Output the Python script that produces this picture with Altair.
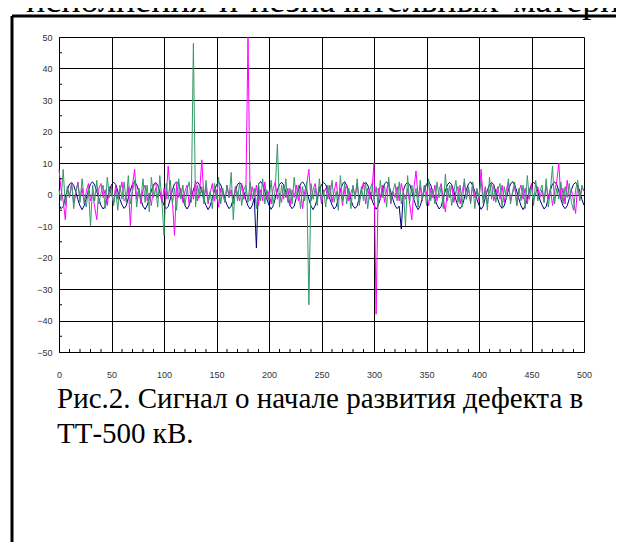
import altair as alt
import pandas as pd

# ---- data (step of 2 along x) ----
x_vals = list(range(0, 501, 2))

navy = [
    -3.2, -4.5, -3.8, -1.0, 1.5, 3.3, 3.8, 2.9, 0.8, -1.6,
    -3.6, -4.8, -3.5, -1.2, 1.3, 3.4, 4.0, 3.0, 0.9, -1.4,
    -3.5, -4.6, -3.7, -1.3, 1.2, 3.1, 3.9, 3.2, 1.1, -1.5,
    -3.3, -4.4, -3.6, -1.1, 1.4, 3.3, 4.1, 3.1, 1.0, -1.7,
    -3.7, -4.7, -3.4, -1.2, 1.2, 3.2, 3.8, 3.0, 0.8, -1.6,
    -3.4, -4.5, -3.8, -1.4, 1.3, 3.4, 4.0, 3.2, 1.0, -1.5,
    -3.6, -4.6, -3.5, -1.0, 1.5, 3.3, 3.9, 2.9, 0.9, -1.6,
    -3.5, -4.8, -3.6, -1.2, 1.1, 3.1, 4.0, 3.1, 1.1, -1.4,
    -3.3, -4.5, -3.7, -1.3, 1.4, 3.2, 3.8, 3.0, 0.9, -1.7,
    -3.6, -4.6, -3.5, -1.1, -17.0, 3.3, 4.1, 3.2, 1.0, -1.5,
    -3.4, -4.7, -3.6, -1.2, 1.3, 3.2, 3.9, 3.0, 0.8, -1.6,
    -3.5, -4.5, -3.7, -1.0, 1.2, 3.4, 4.0, 3.1, 1.0, -1.5,
    -3.7, -4.8, -3.5, -1.3, 1.4, 3.1, 3.8, 3.2, 0.9, -1.4,
    -3.3, -4.6, -3.8, -1.2, 1.3, 3.3, 4.1, 2.9, 1.1, -1.6,
    -3.6, -4.4, -3.6, -1.1, 1.5, 3.2, 3.9, 3.0, 1.0, -1.7,
    -3.4, -4.7, -3.5, -1.4, 1.2, 3.4, 4.0, 3.1, 0.8, -1.5,
    -3.5, -4.5, -3.7, -11.0, 1.3, 3.2, 3.8, 3.2, 1.0, -1.6,
    -3.6, -4.8, -3.6, -1.2, 1.4, 3.3, 4.1, 3.0, 0.9, -1.4,
    -3.3, -4.6, -3.8, -1.1, 1.2, 3.1, 3.9, 3.1, 1.1, -1.7,
    -3.7, -4.5, -3.5, -1.3, 1.5, 3.4, 4.0, 2.9, 1.0, -1.5,
    -3.4, -4.7, -3.7, -1.0, 1.3, 3.2, 3.8, 3.2, 0.8, -1.6,
    -3.5, -4.4, -3.6, -1.2, 1.4, 3.3, 4.1, 3.0, 1.0, -1.4,
    -3.6, -4.8, -3.5, -1.4, 1.2, 3.1, 3.9, 3.1, 0.9, -1.7,
    -3.3, -4.6, -3.8, -1.1, 1.3, 3.4, 4.0, 3.2, 1.1, -1.5,
    -3.6, -4.5, -3.6, -1.3, 1.5, 3.2, 3.8, 2.9, 1.0, -1.6,
    -3.4,
]

green = [
    1.5, -2.0, 8.0, -3.5, 2.5, -1.0, 4.0, -4.5, 1.0, 3.5,
    -2.5, 5.0, -1.5, -4.0, 2.0, -10.0, 3.0, -2.0, 4.5, -3.0,
    0.5, 3.0, -4.5, 5.5, -1.0, 2.5, -3.5, 1.5, -5.0, 3.0,
    -1.5, 4.0, -2.5, 6.0, -3.0, 1.0, 4.5, -4.0, 2.0, -1.5,
    5.0, -2.5, 3.0, -5.5, 5.5, -1.0, 2.0, -4.0, 6.0, -2.0,
    -13.0, 3.5, -1.5, 4.5, -3.0, 2.0, -5.0, 5.0, -1.5, 3.0,
    -3.5, 1.5, 4.0, -2.5, 48.0, -4.0, 3.0, -1.0, 2.5, -3.0,
    4.5, -2.0, 1.0, -4.5, 3.5, -1.5, 5.5, -3.0, 2.0, -2.5,
    3.0, -1.0, 7.0, -8.0, 2.5, -2.0, 4.0, -3.5, 1.5, 3.0,
    -2.5, 4.0, -1.5, 2.0, -4.5, 3.5, -2.0, 5.0, -3.0, 1.5,
    -2.0, 4.5, -3.5, 2.0, 16.0, -4.0, 3.0, -1.5, 5.0, -2.5,
    2.0, -3.0, 5.5, -1.0, 3.0, -4.5, 2.5, -2.0, 4.0, -35.0,
    3.5, -1.5, 2.0, -3.5, 5.0, -2.0, 1.5, -4.0, 3.0, -1.0,
    4.5, -2.5, 1.0, -5.0, 6.0, -2.0, 3.5, -3.0, 2.0, -4.5,
    3.0, -1.5, 5.0, -3.5, 2.5, -2.0, 4.0, -4.5, 1.5, 3.5,
    -2.0, 2.5, -3.5, 4.5, -1.0, 3.0, -4.0, 5.5, -2.5, 1.0,
    3.5, -2.0, 4.0, -3.0, 1.5, -10.0, 6.0, -2.5, 3.0, -1.5,
    2.0, -4.0, 4.5, -1.5, 3.0, -3.5, 5.0, -2.0, 1.5, -3.0,
    4.0, -1.0, 2.5, -4.5, 6.5, -2.0, 3.0, -3.5, 1.0, 4.5,
    -2.5, 3.0, -4.0, 5.0, -1.5, 2.5, -3.0, 4.0, -4.5, 2.0,
    -1.0, 4.5, -3.0, 2.0, -5.0, 5.5, -1.5, 3.0, -2.5, 1.5,
    3.5, -4.0, 2.5, -1.5, 5.0, -3.0, 1.0, 4.0, -3.5, 2.0,
    -2.0, 3.0, -4.5, 6.0, -1.5, 2.5, -3.5, 4.5, -2.0, 1.0,
    3.0, -2.5, 5.0, -4.0, 1.5, 9.0, -3.0, 2.0, -1.5, 4.0,
    -3.0, 2.5, -1.0, 3.5, -2.5, -5.0, 1.5, 4.5, -2.0, 3.0,
    1.0,
]

magenta = [
    8.0, 1.5, -2.0, -8.0, 2.5, -1.0, 3.5, -2.5, 0.5, 4.0,
    -1.5, 2.0, -3.0, 1.0, 3.5, -2.0, 0.5, -4.0, -8.0, 2.0,
    3.5, -1.0, 1.5, -3.5, 2.5, 0.0, -2.5, 3.0, -1.5, 1.0,
    4.0, -2.0, -1.0, 2.5, -10.0, 3.0, 8.0, -1.5, 2.0, -3.0,
    1.5, 3.0, -2.0, 0.5, -3.5, 2.5, 4.0, -1.0, 1.0, -2.5,
    2.0, -1.5, 9.0, 0.5, -2.0, -13.0, 3.5, -1.0, 2.0, -2.5,
    1.0, 3.0, -3.5, 2.0, -1.5, 4.5, -2.0, 1.0, 11.0, -1.5,
    2.5, -3.0, 0.5, 3.5, -2.0, 1.5, -4.0, 2.0, 0.0, -2.5,
    3.0, -1.0, 1.5, -3.0, 2.5, 0.5, -2.0, 3.5, -1.5, 1.0,
    50.0, -2.0, 2.5, -1.0, 3.0, -3.5, 1.5, -2.0, 4.0, -1.5,
    1.0, -3.0, 2.0, 4.0, -1.5, 0.5, -2.5, 3.0, -1.0, 2.0,
    -3.5, 1.5, -1.0, 3.0, -2.0, 2.5, -4.5, 1.0, 3.5, 8.0,
    -2.0, 1.5, 3.5, -1.0, 2.5, -3.0, 0.5, 2.0, -1.5, 3.0,
    -2.5, 1.0, 4.0, -1.5, 2.0, -3.5, 1.5, 3.0, -2.0, 0.5,
    2.5, -1.0, 3.5, -2.5, 1.0, 4.0, -3.0, 2.0, -1.5, 1.0,
    10.0, -38.0, 2.0, -1.5, 3.0, -2.5, 1.5, 4.0, -3.0, 1.0,
    -1.0, 2.5, -2.0, 3.5, 0.5, -1.5, 2.0, -3.0, -8.0, 2.0,
    7.5, -1.0, 2.5, -2.0, 3.0, 0.5, -3.5, 2.0, -1.0, 3.0,
    -2.0, 1.5, 3.5, -1.5, -5.5, 2.0, -1.0, 3.0, -2.5, 1.0,
    2.5, -3.0, 1.0, 4.0, -1.5, 2.0, -2.5, 3.5, -1.0, 1.5,
    -2.0, 8.0, -1.5, 2.5, -3.0, 1.0, 3.5, -2.0, 0.5, 2.5,
    -1.5, 3.0, -2.5, 1.5, 4.0, -2.0, 0.5, 2.5, -3.5, 1.0,
    3.0, -1.5, 2.0, -3.0, 1.5, 3.5, -2.0, 0.5, 2.5, -1.0,
    1.5, -2.5, 3.0, -1.0, 2.0, -3.5, 1.0, 4.0, 10.0, -1.5,
    2.0, -3.0, 4.5, -1.0, 1.5, -2.0, -6.0, 3.0, -1.5, 2.0,
    1.0,
]

x_ticks = list(range(0, 501, 50))
y_ticks = list(range(-50, 51, 10))
minor_x = [v for v in range(10, 500, 10) if v % 50]
minor_y = list(range(-45, 50, 10))

# body text above the figure (justified, so words are set apart)
top_words = ["исполнения", "и", "незначительных", "материальных"]
top_word_px = [26, 219, 250, 513]
caption_1 = ["Рис.2. Сигнал о начале развития дефекта в"]
caption_2 = ["ТТ-500 кВ."]

series_names = ["navy", "magenta", "green"]
series_colors = ["#000080", "#FF00FF", "#339966"]

# ---- chart ----
W, H = 525, 315
PX, PY = 59, 37  # page position of plot origin
SERIF = "Liberation Serif"

df = pd.DataFrame({"x": x_vals, "navy": navy, "green": green, "magenta": magenta})

xscale = alt.Scale(domain=[0, 500], nice=False, zero=False)
yscale = alt.Scale(domain=[-50, 50], nice=False, zero=False)

x_axis = alt.Axis(values=x_ticks, title=None, grid=True, ticks=False, tickSize=0,
                  labelPadding=18, labelFontSize=9, labelFont="Liberation Sans",
                  labelColor="#333333", domainColor="#000000", gridColor="#000000",
                  gridOpacity=1, labelFlush=False)
y_axis = alt.Axis(values=y_ticks, title=None, grid=True, ticks=False, tickSize=0,
                  labelPadding=7, labelFontSize=9, labelFont="Liberation Sans",
                  labelColor="#333333", domainColor="#000000", gridColor="#000000",
                  gridOpacity=1, labelFlush=False)

layers = []
for name, col in zip(series_names, series_colors):
    layers.append(
        alt.Chart(df).mark_line(color=col, strokeWidth=1).encode(
            x=alt.X("x:Q", scale=xscale, axis=x_axis),
            y=alt.Y(f"{name}:Q", scale=yscale, axis=y_axis),
        )
    )

mx = alt.Chart(pd.DataFrame({"x": minor_x})).mark_rule(color="#000000", strokeWidth=1).encode(
    x=alt.X("x:Q", scale=xscale, axis=x_axis), y=alt.value(H), y2=alt.value(H - 3)
)
my = alt.Chart(pd.DataFrame({"navy": minor_y})).mark_rule(color="#000000", strokeWidth=1).encode(
    y=alt.Y("navy:Q", scale=yscale, axis=y_axis), x=alt.value(0), x2=alt.value(3)
)

border_left = alt.Chart(pd.DataFrame({"a": [0]})).mark_rule(color="#000000", strokeWidth=3).encode(
    x=alt.value(12 - PX), y=alt.value(16 - PY), y2=alt.value(H + 300)
)
border_top = alt.Chart(pd.DataFrame({"a": [0]})).mark_rule(color="#000000", strokeWidth=3).encode(
    x=alt.value(12 - PX), x2=alt.value(700), y=alt.value(16 - PY)
)

word_layers = []
for w, px in zip(top_words, top_word_px):
    word_layers.append(
        alt.Chart(pd.DataFrame({"t": [w]})).mark_text(
            align="left", baseline="alphabetic", font=SERIF, fontSize=36, color="#000000"
        ).encode(x=alt.value(px - PX), y=alt.value(12 - PY), text="t:N")
    )

cap1 = alt.Chart(pd.DataFrame({"t": caption_1})).mark_text(
    align="left", baseline="alphabetic", font=SERIF, fontSize=29, color="#000000"
).encode(x=alt.value(57 - PX), y=alt.value(408 - PY), text="t:N")

cap2 = alt.Chart(pd.DataFrame({"t": caption_2})).mark_text(
    align="left", baseline="alphabetic", font=SERIF, fontSize=29, color="#000000"
).encode(x=alt.value(57 - PX), y=alt.value(443 - PY), text="t:N")

chart = alt.layer(
    *layers, mx, my, border_left, border_top, *word_layers, cap1, cap2
).properties(
    width=W, height=H,
    padding={"left": PX - 8, "top": PY - 8, "right": 608 - (PX - 8) - W, "bottom": 534 - (PY - 8) - H},
    autosize=alt.AutoSizeParams(type="none"),
    background="#FFFFFF",
).configure_view(stroke=None)

chart.save("out.html", embed_options={"renderer": "svg", "actions": False})
